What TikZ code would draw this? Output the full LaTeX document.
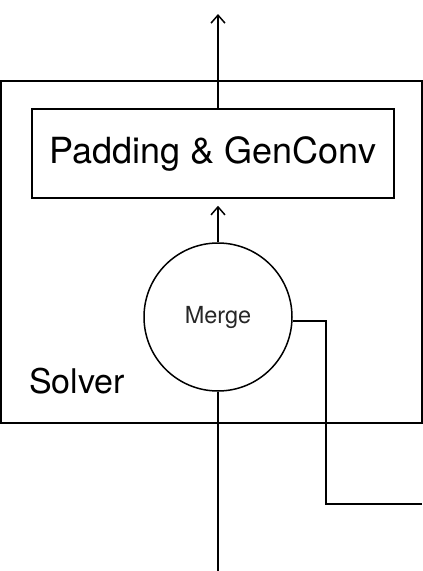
\documentclass[tikz,border=0pt]{standalone}
\usepackage{fontspec}
\setmainfont{TeX Gyre Heros}
\usetikzlibrary{arrows.meta,positioning}

\begin{document}
\begin{tikzpicture}[x=1pt,y=-1pt,line width=1.5pt,
  blockbox/.style={draw,rectangle,inner sep=0pt},
  mergenode/.style={draw,circle,minimum size=148pt,inner sep=0pt,
    font=\fontsize{23.5}{26}\selectfont,text=black!85},
  flow/.style={-{Straight Barb[length=8pt,width=14pt]}}]
\useasboundingbox (0,0) rectangle (423,571);
% solver frame and its parts
\node[blockbox,minimum width=421pt,minimum height=342pt] (solver) at (211.5,252) {};
\node[font=\fontsize{34}{38}\selectfont] (solverlabel) at (77,381) {Solver};
\node[blockbox,minimum width=362pt,minimum height=89pt,
  font=\fontsize{36}{40}\selectfont] (pad) at (213,153.5) {Padding \& GenConv};
\node[mergenode] (merge) at (218,317) {Merge};
% free ends
\coordinate (out) at (218,14);
\coordinate (in) at (218,571);
\coordinate (side) at (422,504);
% connectors
\draw[flow] (merge.north) -- ([yshift=-7pt]merge.north |- pad.south);
\draw[flow] (pad.north -| out) -- (out);
\draw (merge.south) -- (in);
\draw ([yshift=-4pt]merge.east) -- ++(33,0) |- (side);
\end{tikzpicture}
\end{document}
